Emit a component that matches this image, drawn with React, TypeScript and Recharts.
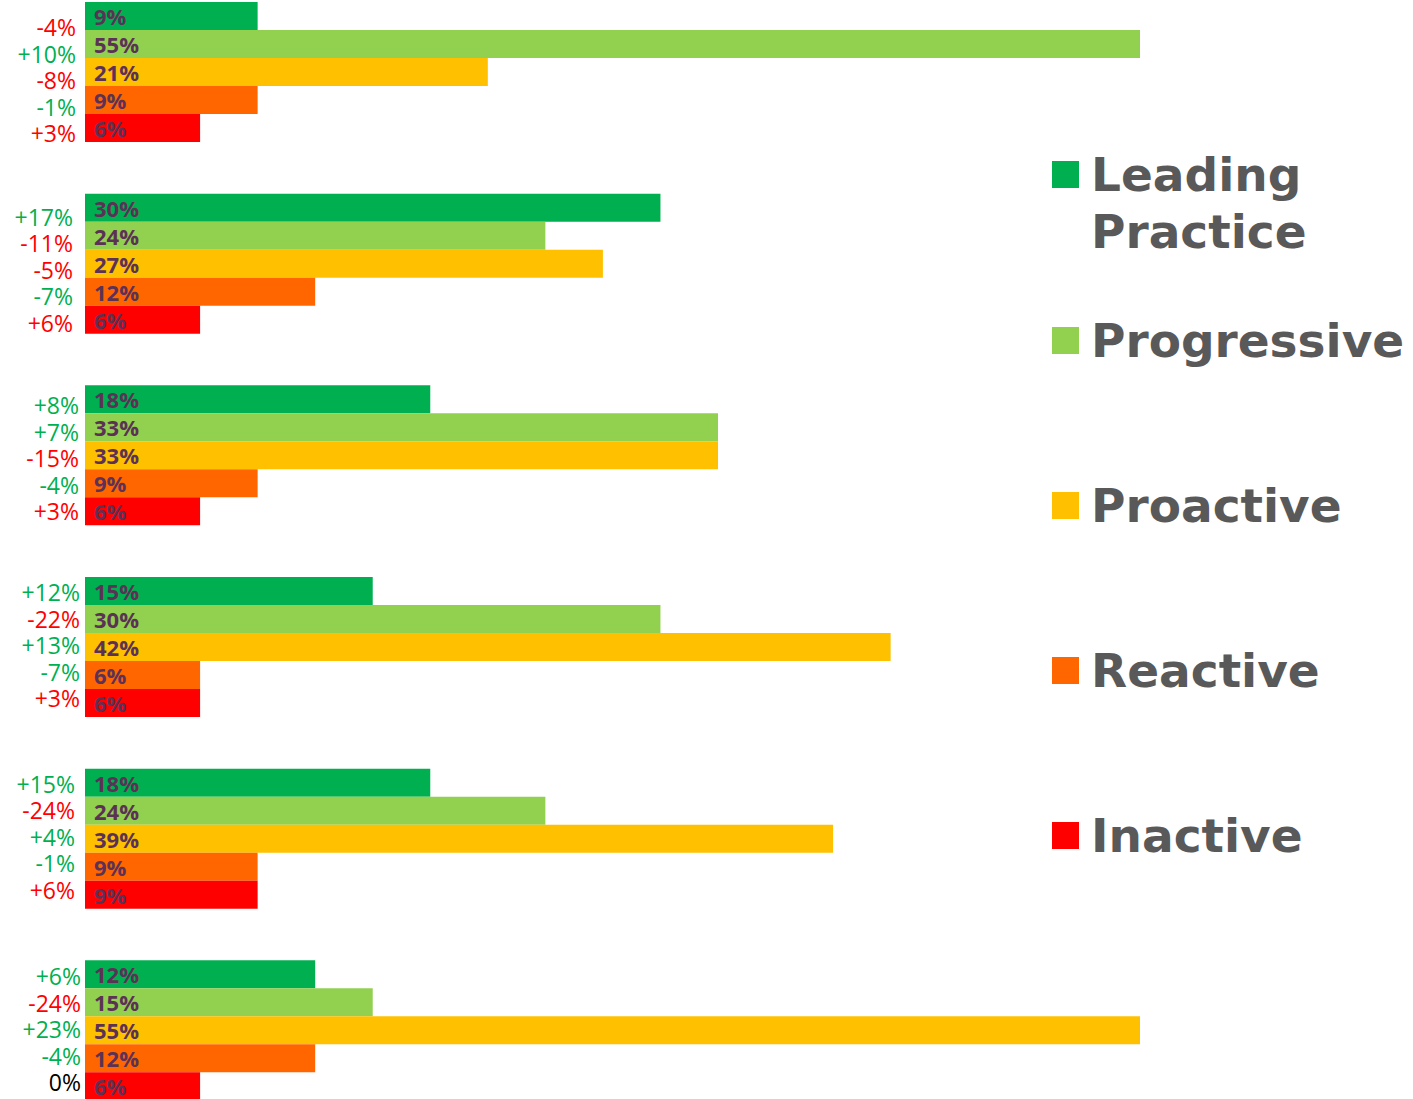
import React from 'react';
import { BarChart, Bar, XAxis, YAxis, LabelList, Legend } from 'recharts';

const groups = ['G1', 'G2', 'G3', 'G4', 'G5', 'G6'];
const seriesNames = ['Leading Practice', 'Progressive', 'Proactive', 'Reactive', 'Inactive'];
const seriesKeys = ['leading', 'progressive', 'proactive', 'reactive', 'inactive'];
const seriesColors = ['#00B050', '#92D050', '#FFC000', '#FF6600', '#FF0000'];

const leading = [9, 30, 18, 15, 18, 12];
const progressive = [55, 24, 33, 30, 24, 15];
const proactive = [21, 27, 33, 42, 39, 55];
const reactive = [9, 12, 9, 6, 9, 12];
const inactive = [6, 6, 6, 6, 9, 6];

const leadingDelta = [-4, 17, 8, 12, 15, 6];
const progressiveDelta = [10, -11, 7, -22, -24, -24];
const proactiveDelta = [-8, -5, -15, 13, 4, 23];
const reactiveDelta = [-1, -7, -4, -7, -1, -4];
const inactiveDelta = [3, 6, 3, 3, 6, 0];

const valuesBySeries = [leading, progressive, proactive, reactive, inactive];
const deltasBySeries = [leadingDelta, progressiveDelta, proactiveDelta, reactiveDelta, inactiveDelta];

// layout tweaks for the change labels (per group)
const deltaRightEdge = [76, 73, 79, 80, 75, 81];
const deltaShiftY = [8, 6, 3, -2, -2, -1];

const data = groups.map((g, gi) => {
  const row: any = { group: g, gi };
  seriesKeys.forEach((k, si) => {
    row[k] = valuesBySeries[si][gi];
    row[k + 'Delta'] = deltasBySeries[si][gi];
  });
  return row;
});

const GREEN = '#00B050';
const RED = '#FF0000';

const fmtDelta = (d: number) => (d > 0 ? '+' + d + '%' : d + '%');
const deltaColor = (d: number, si: number) => {
  if (d === 0) return '#000000';
  const good = si < 3 ? d > 0 : d < 0;
  return good ? GREEN : RED;
};

const makeDeltaLabel = (si: number) => (props: any) => {
  const { y, height, index } = props;
  const d = deltasBySeries[si][index];
  const cy = y + height / 2 + deltaShiftY[index] + (2 - si) * 1.5;
  return (
    <text
      x={deltaRightEdge[index]}
      y={cy}
      textAnchor="end"
      dominantBaseline="central"
      fontFamily="'Open Sans', sans-serif"
      fontSize={23}
      fill={deltaColor(d, si)}
    >
      {fmtDelta(d)}
    </text>
  );
};

const makeValueLabel = () => (props: any) => {
  const { x, y, height, value } = props;
  return (
    <text
      x={x + 9}
      y={y + height / 2}
      dominantBaseline="central"
      fontFamily="'Open Sans', sans-serif"
      fontWeight="bold"
      fontSize={22}
      fill="#5B3256"
    >
      {value + '%'}
    </text>
  );
};

const legendTops = [146, 312, 477, 642, 807];

const LegendContent = () => (
  <div style={{ position: 'relative', width: 361, height: 900 }}>
    {seriesNames.map((n, i) => (
      <div
        key={n}
        style={{
          position: 'absolute',
          left: 0,
          top: legendTops[i],
          display: 'flex',
          alignItems: 'flex-start',
        }}
      >
        <div style={{ width: 27, height: 27, background: seriesColors[i], marginTop: 15, marginRight: 12 }} />
        <div
          style={{
            fontFamily: "'DejaVu Sans', sans-serif",
            fontWeight: 'bold',
            fontSize: 47,
            lineHeight: '57px',
            color: '#595959',
            width: 322,
            whiteSpace: 'nowrap',
          }}
        >
          {n === 'Leading Practice' ? (
            <>
              Leading
              <br />
              Practice
            </>
          ) : (
            n
          )}
        </div>
      </div>
    ))}
  </div>
);

export default function App() {
  return (
    <div style={{ position: 'fixed', left: 0, top: 0, width: 1413, height: 1099, overflow: 'hidden', background: '#fff' }}>
      <div style={{ position: 'absolute', left: 0, top: -24.5 }}>
        <BarChart
          width={1413}
          height={1150}
          data={data}
          layout="vertical"
          margin={{ top: 0, right: 273, bottom: 0, left: 85 }}
          barGap={0}
          barCategoryGap={0}
        >
          <XAxis type="number" domain={[0, 55]} hide />
          <YAxis type="category" dataKey="group" hide />
          <Legend
            layout="horizontal"
            verticalAlign="middle"
            align="center"
            content={<LegendContent />}
            wrapperStyle={{ left: 1052, top: 24, width: 361, height: 900 }}
          />
          {seriesKeys.map((k, si) => (
            <Bar key={k} dataKey={k} name={seriesNames[si]} fill={seriesColors[si]} barSize={28} isAnimationActive={false}>
              <LabelList dataKey={k} content={makeValueLabel()} />
              <LabelList dataKey={k + 'Delta'} content={makeDeltaLabel(si)} />
            </Bar>
          ))}
        </BarChart>
      </div>
    </div>
  );
}
